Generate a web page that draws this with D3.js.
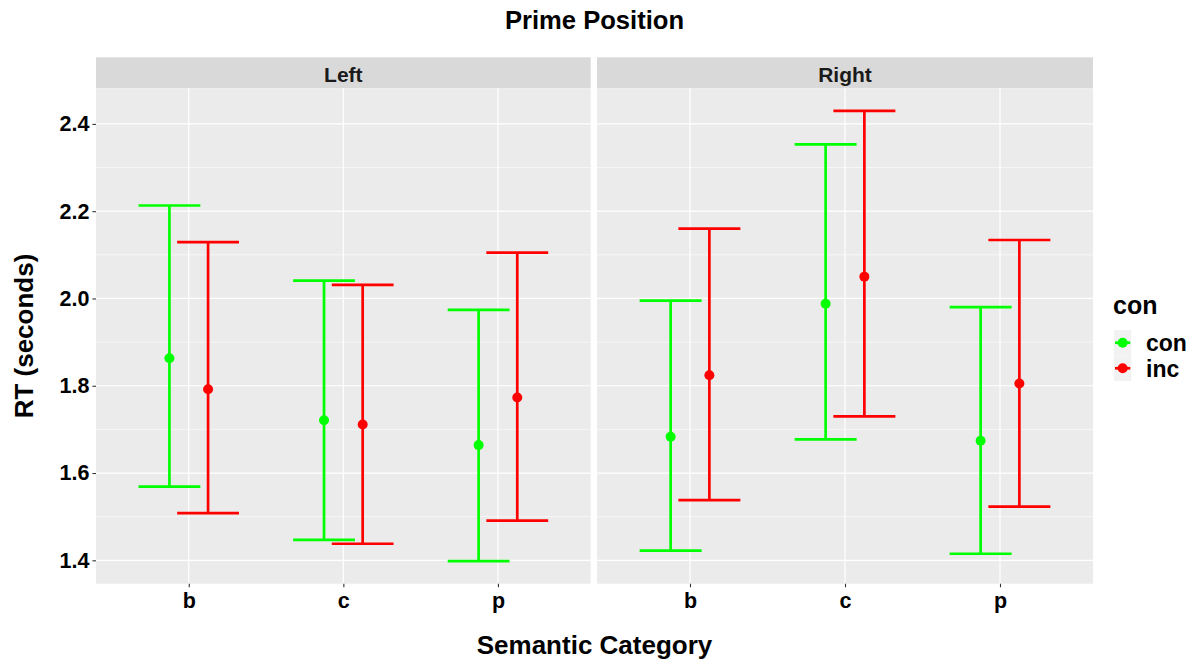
<!DOCTYPE html>
<html>
<head>
<meta charset="utf-8">
<script src="https://cdn.jsdelivr.net/npm/d3@7"></script>
<style>
  html, body { margin: 0; padding: 0; background: #fff; }
  svg text { font-family: "Liberation Sans", Arial, Helvetica, sans-serif; font-weight: bold; }
</style>
</head>
<body>
<svg id="chart" width="1199" height="662"></svg>
<script>
// Facets, categories and groups
const facets = ["Left", "Right"];
const categories = ["b", "c", "p"];
const groups = ["con", "inc"];
const groupColors = ["#00FF00", "#FF0000"];

// Mean RT and interval bounds (seconds), ordered b, c, p
const leftConMean = [1.863, 1.721, 1.664];
const leftConLow  = [1.569, 1.447, 1.398];
const leftConHigh = [2.213, 2.041, 1.974];
const leftIncMean = [1.792, 1.711, 1.773];
const leftIncLow  = [1.508, 1.438, 1.491];
const leftIncHigh = [2.129, 2.031, 2.105];

const rightConMean = [1.683, 1.988, 1.674];
const rightConLow  = [1.422, 1.677, 1.415];
const rightConHigh = [1.995, 2.353, 1.980];
const rightIncMean = [1.824, 2.050, 1.805];
const rightIncLow  = [1.538, 1.730, 1.523];
const rightIncHigh = [2.160, 2.430, 2.134];

const yTicks = [1.4, 1.6, 1.8, 2.0, 2.2, 2.4];
const yMinorTicks = [1.5, 1.7, 1.9, 2.1, 2.3];

// Long-format rows built from the arrays above
const seriesTable = {
  Left:  { con: [leftConMean, leftConLow, leftConHigh],   inc: [leftIncMean, leftIncLow, leftIncHigh] },
  Right: { con: [rightConMean, rightConLow, rightConHigh], inc: [rightIncMean, rightIncLow, rightIncHigh] }
};
const rows = [];
facets.forEach(f => groups.forEach((g, gi) => categories.forEach((c, ci) => {
  const [m, lo, hi] = seriesTable[f][g];
  rows.push({ facet: f, group: g, gi, category: c, mean: m[ci], low: lo[ci], high: hi[ci] });
})));

const svg = d3.select("#chart");

// Layout
const panelTop = 88.3, panelBottom = 583.7;
const stripTop = 57.3;
const panels = [
  { name: "Left",  x0: 96,  x1: 590.7 },
  { name: "Right", x0: 597, x1: 1093 }
];

// Shared y scale with 5% expansion
const allLo = d3.min(rows, d => d.low), allHi = d3.max(rows, d => d.high);
const pad = (allHi - allLo) * 0.05;
const y = d3.scaleLinear().domain([allLo - pad, allHi + pad]).range([panelBottom, panelTop]);

const color = d3.scaleOrdinal().domain(groups).range(groupColors);

panels.forEach((p, pi) => {
  const x = d3.scalePoint().domain(categories).range([p.x0, p.x1]).padding(0.6);
  const step = x.step();
  const dodge = 0.125 * step;
  const capHalf = 0.2 * step;
  const g = svg.append("g");

  // Strip
  g.append("rect").attr("x", p.x0).attr("y", stripTop)
    .attr("width", p.x1 - p.x0).attr("height", panelTop - stripTop).attr("fill", "#D9D9D9");
  g.append("text").attr("x", (p.x0 + p.x1) / 2).attr("y", 81.5)
    .attr("text-anchor", "middle").attr("font-size", 21).attr("fill", "#1A1A1A").text(p.name);

  // Panel background
  g.append("rect").attr("x", p.x0).attr("y", panelTop)
    .attr("width", p.x1 - p.x0).attr("height", panelBottom - panelTop).attr("fill", "#EBEBEB");

  // Grid
  g.selectAll(".minor").data(yMinorTicks).join("line")
    .attr("x1", p.x0).attr("x2", p.x1).attr("y1", d => y(d)).attr("y2", d => y(d))
    .attr("stroke", "#fff").attr("stroke-width", 0.6);
  g.selectAll(".major").data(yTicks).join("line")
    .attr("x1", p.x0).attr("x2", p.x1).attr("y1", d => y(d)).attr("y2", d => y(d))
    .attr("stroke", "#fff").attr("stroke-width", 1.2);
  g.selectAll(".vmajor").data(categories).join("line")
    .attr("x1", d => x(d)).attr("x2", d => x(d)).attr("y1", panelTop).attr("y2", panelBottom)
    .attr("stroke", "#fff").attr("stroke-width", 1.2);

  // X axis
  const xAxis = g.append("g").attr("transform", `translate(0,${panelBottom})`)
    .call(d3.axisBottom(x).tickSize(3.6).tickPadding(5));
  xAxis.select(".domain").remove();
  xAxis.selectAll(".tick line").attr("stroke", "#333333").attr("stroke-width", 1.1);
  xAxis.selectAll(".tick text").attr("font-size", 21.5).attr("fill", "#000")
    .style("font-family", '"Liberation Sans", Arial, sans-serif').style("font-weight", "bold");

  // Y axis on the first panel only
  if (pi === 0) {
    const yAxis = g.append("g").attr("transform", `translate(${p.x0},0)`)
      .call(d3.axisLeft(y).tickValues(yTicks).tickSize(3.6).tickPadding(3).tickFormat(d3.format(".1f")));
    yAxis.select(".domain").remove();
    yAxis.selectAll(".tick line").attr("stroke", "#333333").attr("stroke-width", 1.1);
    yAxis.selectAll(".tick text").attr("font-size", 21.5).attr("fill", "#000")
      .style("font-family", '"Liberation Sans", Arial, sans-serif').style("font-weight", "bold");
  }

  // Error bars and means
  const data = rows.filter(d => d.facet === p.name);
  const cx = d => x(d.category) + (d.gi === 0 ? -dodge : dodge);
  const bars = g.selectAll(".bar").data(data).join("g");
  bars.append("line")
    .attr("x1", cx).attr("x2", cx).attr("y1", d => y(d.low)).attr("y2", d => y(d.high))
    .attr("stroke", d => color(d.group)).attr("stroke-width", 2.7);
  bars.append("line")
    .attr("x1", d => cx(d) - capHalf).attr("x2", d => cx(d) + capHalf)
    .attr("y1", d => y(d.high)).attr("y2", d => y(d.high))
    .attr("stroke", d => color(d.group)).attr("stroke-width", 2.7);
  bars.append("line")
    .attr("x1", d => cx(d) - capHalf).attr("x2", d => cx(d) + capHalf)
    .attr("y1", d => y(d.low)).attr("y2", d => y(d.low))
    .attr("stroke", d => color(d.group)).attr("stroke-width", 2.7);
  bars.append("circle")
    .attr("cx", cx).attr("cy", d => y(d.mean)).attr("r", 5)
    .attr("fill", d => color(d.group));
});

// Titles
svg.append("text").attr("x", 594.5).attr("y", 29.3).attr("text-anchor", "middle")
  .attr("font-size", 25.6).attr("fill", "#000").text("Prime Position");
svg.append("text").attr("x", 594.5).attr("y", 654).attr("text-anchor", "middle")
  .attr("font-size", 26).attr("fill", "#000").text("Semantic Category");
svg.append("text").attr("transform", `translate(32.5,${(panelTop + panelBottom) / 2}) rotate(-90)`)
  .attr("text-anchor", "middle").attr("font-size", 26).attr("fill", "#000").text("RT (seconds)");

// Legend
const legend = svg.append("g");
legend.append("text").attr("x", 1113).attr("y", 314).attr("font-size", 25).attr("fill", "#000").text("con");
const keyX = 1114, keyW = 17.3, keyH = 25.5, keyY = 330;
groups.forEach((gname, i) => {
  const ky = keyY + i * keyH;
  legend.append("rect").attr("x", keyX).attr("y", ky).attr("width", keyW).attr("height", keyH).attr("fill", "#F2F2F2");
  legend.append("line").attr("x1", keyX + 1).attr("x2", keyX + keyW - 1)
    .attr("y1", ky + keyH / 2).attr("y2", ky + keyH / 2)
    .attr("stroke", color(gname)).attr("stroke-width", 2.7);
  legend.append("circle").attr("cx", keyX + keyW / 2).attr("cy", ky + keyH / 2).attr("r", 5).attr("fill", color(gname));
  legend.append("text").attr("x", 1146).attr("y", ky + keyH / 2 + 8.5).attr("font-size", 23).attr("fill", "#000").text(gname);
});
</script>
</body>
</html>
